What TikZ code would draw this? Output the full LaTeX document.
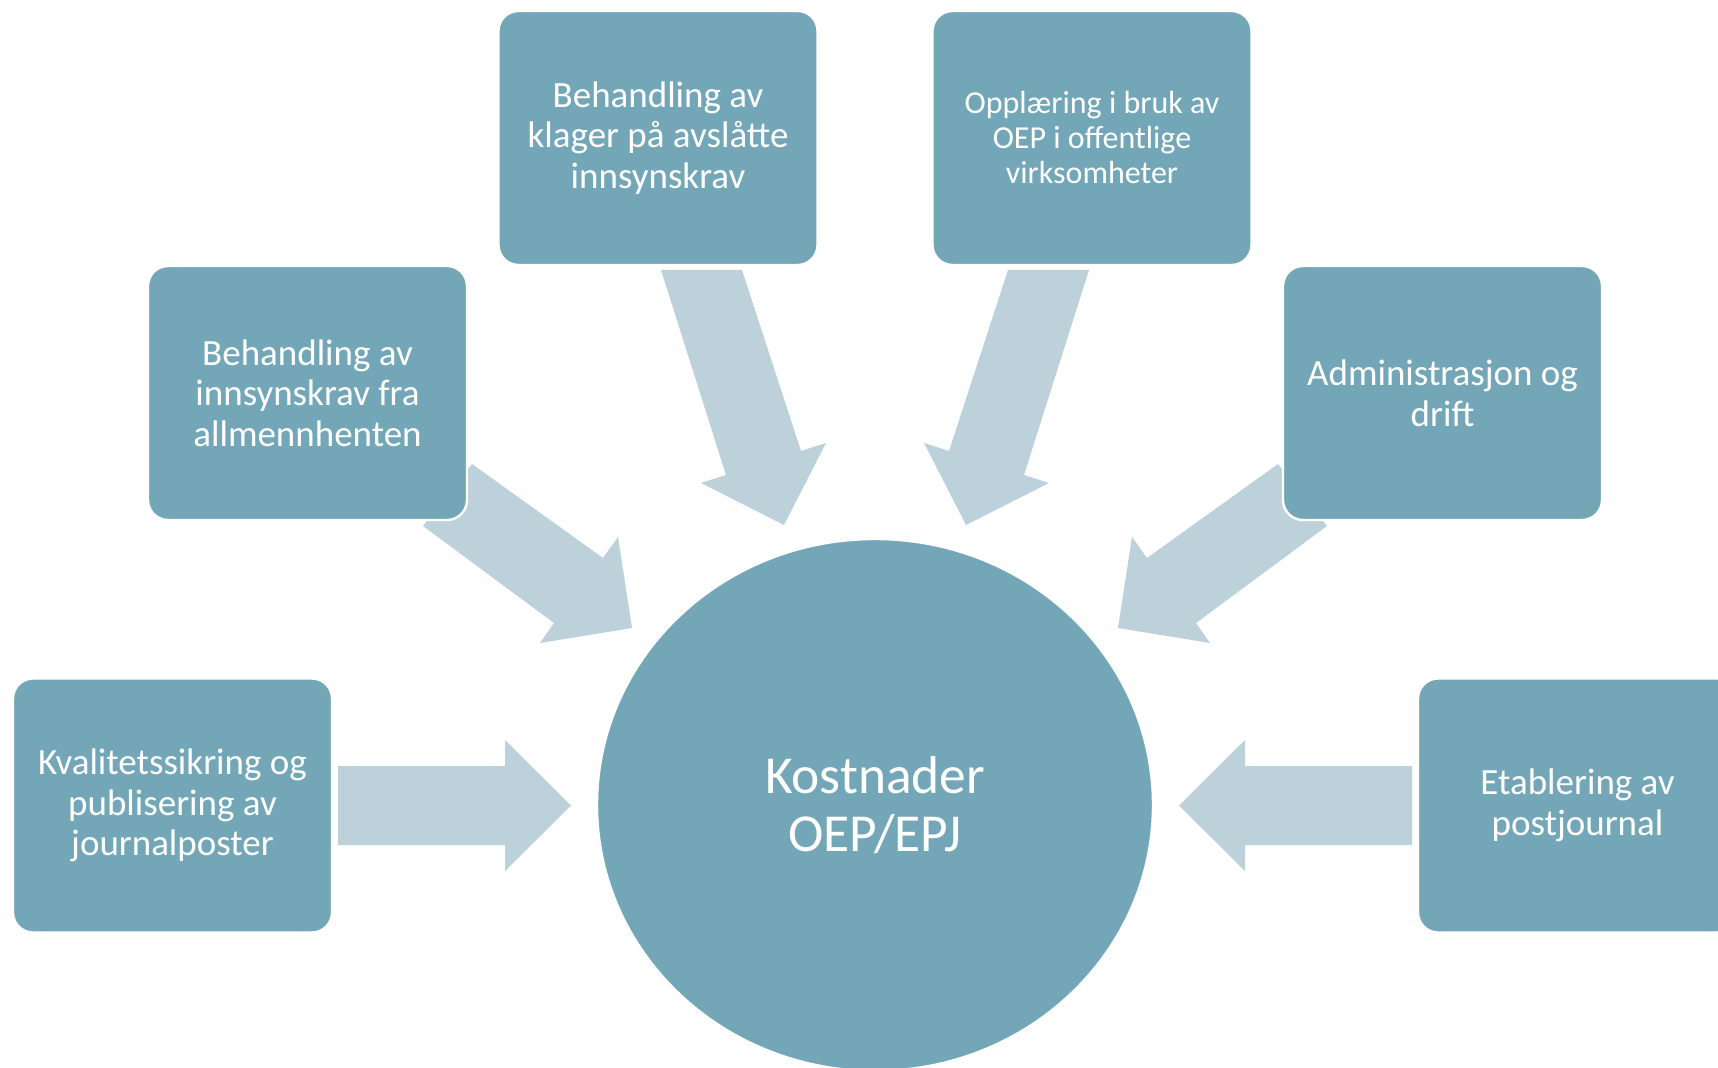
\documentclass[tikz,border=0pt]{standalone}
\usepackage{fontspec}
\setmainfont{Carlito}
\usetikzlibrary{shapes.geometric}
\definecolor{boxc}{HTML}{73A7B8}
\definecolor{arrc}{HTML}{BDD1DA}
\tikzset{
  box/.style={rectangle, rounded corners=10pt, fill=boxc, draw=white, line width=1.2pt,
    minimum width=159.5pt, minimum height=127pt, text=white, align=center,
    font=\fontsize{18.5}{20.3}\selectfont, inner sep=0pt},
  smallbox/.style={box, font=\fontsize{16}{17.5}\selectfont},
  hub/.style={ellipse, fill=boxc, draw=white, line width=1.2pt, minimum width=278pt,
    minimum height=266pt, text=white, align=center, font=\fontsize{26.7}{29}\selectfont},
  blockarrow/.style={fill=arrc}
}
\begin{document}
\begin{tikzpicture}[x=0.5pt, y=-0.5pt]
\useasboundingbox (0,0) rectangle (1718,1068);
\clip (0,0) rectangle (1718,1068);
\fill[white] (0,0) rectangle (1718,1068);
% block arrows
\fill[blockarrow] (472,464) -- (603,558) -- (618,537) -- (632,628) -- (540,643) -- (554,623) -- (423,526) -- cycle;
\fill[blockarrow] (661,270) -- (742,270) -- (801,451) -- (826,443) -- (784,525) -- (701,483) -- (726,475) -- cycle;
\fill[blockarrow] (1089,270) -- (1008,270) -- (949,451) -- (924,443) -- (966,525) -- (1049,483) -- (1024,475) -- cycle;
\fill[blockarrow] (1278,464) -- (1147,558) -- (1132,537) -- (1118,628) -- (1210,643) -- (1196,623) -- (1327,526) -- cycle;
\fill[blockarrow] (338,766) -- (505,766) -- (505,740) -- (571,805.5) -- (505,871) -- (505,845) -- (338,845) -- cycle;
\fill[blockarrow] (1412,766) -- (1245,766) -- (1245,740) -- (1179,805.5) -- (1245,871) -- (1245,845) -- (1412,845) -- cycle;
% nodes
\node[hub] (hub) at (875,805) {Kostnader\\OEP/EPJ};
\node[box] (b1) at (658,138) {Behandling av\\klager på avslåtte\\innsynskrav};
\node[smallbox] (b2) at (1092,138) {Opplæring i bruk av\\OEP i offentlige\\virksomheter};
\node[box] (b3) at (307.5,393) {Behandling av\\innsynskrav fra\\allmennhenten};
\node[box] (b4) at (1442.5,393) {Administrasjon og\\drift};
\node[box] (b5) at (172.5,805.5) {Kvalitetssikring og\\publisering av\\journalposter};
\node[box] (b6) at (1577.5,805.5) {Etablering av\\postjournal};
\end{tikzpicture}
\end{document}
